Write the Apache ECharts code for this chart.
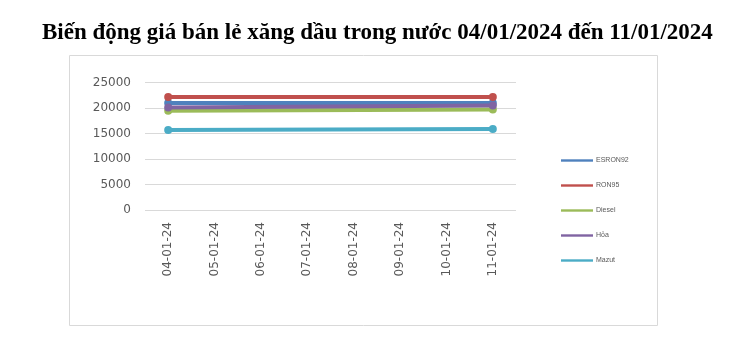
<!DOCTYPE html>
<html><head><meta charset="utf-8">
<script src="https://cdn.jsdelivr.net/npm/echarts@6/dist/echarts.min.js"></script>
<style>html,body{margin:0;padding:0;background:#fff}#c{width:730px;height:350px}</style>
</head><body><div id="c"></div>
<script>
var titleText = 'Biến động giá bán lẻ xăng dầu trong nước 04/01/2024 đến 11/01/2024';
var categories = ['04-01-24','05-01-24','06-01-24','07-01-24','08-01-24','09-01-24','10-01-24','11-01-24'];
var seriesNames = ['ESRON92','RON95','Diesel','Hỏa','Mazut'];
var e5ron92 = [21000, null, null, null, null, null, null, 21000];
var ron95   = [22150, null, null, null, null, null, null, 22150];
var diesel  = [19450, null, null, null, null, null, null, 19700];
var hoa     = [20100, null, null, null, null, null, null, 20500];
var mazut   = [15700, null, null, null, null, null, null, 15900];
var yTicks = [0, 5000, 10000, 15000, 20000, 25000];
var colors = ['#4f81bd','#c0504d','#9bbb59','#8064a2','#4bacc6'];
var dataSets = [e5ron92, ron95, diesel, hoa, mazut];

var chart = echarts.init(document.getElementById('c'));
chart.setOption({
  animation: false,
  color: colors,
  title: {
    text: titleText, left: 37, top: 17,
    textStyle: {fontFamily: 'Liberation Serif', fontWeight: 'bold', fontSize: 23, color: '#000'}
  },
  graphic: [{type: 'rect', shape: {x: 69.5, y: 55.5, width: 588, height: 270}, style: {fill: 'none', stroke: '#d9d9d9', lineWidth: 1}, silent: true}],
  legend: {
    orient: 'vertical', left: 561, top: 157, padding: 0, itemGap: 18, itemWidth: 32, itemHeight: 7,
    icon: 'path://M0,2.3 L32,2.3 L32,4.7 L0,4.7 Z',
    textStyle: {fontSize: 7, color: '#595959', fontFamily: 'Liberation Sans', padding: [0,0,0,-2]},
    data: seriesNames
  },
  grid: {left: 145, right: 214, top: 82.5, bottom: 140},
  xAxis: {
    type: 'category', data: categories, boundaryGap: true,
    axisLine: {show: false}, axisTick: {show: false},
    axisLabel: {rotate: 90, fontSize: 12, color: '#595959', fontFamily: 'DejaVu Sans', margin: 12}
  },
  yAxis: {
    type: 'value', min: yTicks[0], max: yTicks[yTicks.length-1], interval: 5000,
    axisLine: {show: false}, axisTick: {show: false},
    axisLabel: {fontSize: 12, color: '#595959', fontFamily: 'DejaVu Sans', margin: 14, formatter: function (v) { return String(v); }},
    splitLine: {lineStyle: {color: '#d9d9d9', width: 1}}
  },
  series: seriesNames.map(function (n, i) {
    return {
      name: n, type: 'line', data: dataSets[i], connectNulls: true,
      symbol: 'circle', symbolSize: 8,
      lineStyle: {width: 4, color: colors[i]},
      itemStyle: {color: colors[i]}
    };
  })
});
</script></body></html>
